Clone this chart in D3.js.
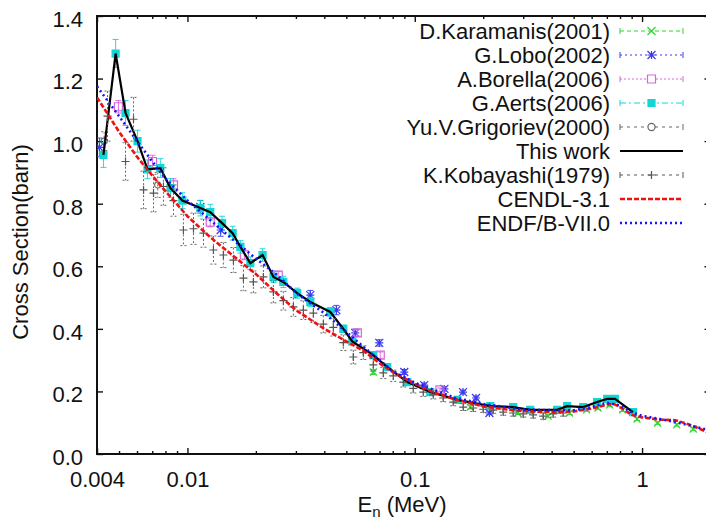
<!DOCTYPE html>
<html>
<head>
<meta charset="utf-8">
<script src="https://cdn.jsdelivr.net/npm/d3@7"></script>
<style>
  html, body { margin: 0; padding: 0; background: #fff; }
  svg { display: block; }
  text { font-family: "Liberation Sans", Arial, Helvetica, sans-serif; fill: #111; }
</style>
</head>
<body>
<svg id="chart" width="706" height="527"></svg>
<script>
// ---------------- DATA (E in MeV, sigma in barn, err in barn) ----------------
const xTickLabels = ["0.004", "0.01", "0.1", "1"];
const xMajorTicks = [0.004, 0.01, 0.1, 1];
const xMinorTicks = [0.005,0.006,0.007,0.008,0.009,0.02,0.03,0.04,0.05,0.06,0.07,0.08,0.09,0.2,0.3,0.4,0.5,0.6,0.7,0.8,0.9,2];
const yTicks = [0, 0.2, 0.4, 0.6, 0.8, 1.0, 1.2, 1.4];

const seriesNames = ["D.Karamanis(2001)", "G.Lobo(2002)", "A.Borella(2006)", "G.Aerts(2006)",
  "Yu.V.Grigoriev(2000)", "This work", "K.Kobayashi(1979)", "CENDL-3.1", "ENDF/B-VII.0"];

const karamanis = [[0.0657,0.262,0.008],[0.1755,0.150,0.006],[0.284,0.131,0.005],[0.386,0.121,0.005],
  [0.48,0.131,0.005],[0.57,0.141,0.005],[0.64,0.147,0.005],[0.72,0.157,0.005],[0.82,0.141,0.005],
  [0.95,0.112,0.005],[1.17,0.099,0.004],[1.42,0.093,0.004],[1.68,0.080,0.004]];

const lobo = [[0.0041,0.98,0.03],[0.0114,0.79,0.02],[0.0140,0.716,0.02],[0.0347,0.508,0.015],
  [0.0452,0.46,0.015],[0.0547,0.387,0.012],[0.0698,0.355,0.01],[0.0899,0.262,0.008],
  [0.110,0.22,0.007],[0.135,0.208,0.007],[0.163,0.198,0.006],[0.186,0.179,0.006],[0.213,0.131,0.005]];

const borella = [[0.00497,1.11,0.02],[0.00702,0.935,0.02],[0.00868,0.86,0.02],[0.0126,0.741,0.015],
  [0.0178,0.636,0.015],[0.0251,0.572,0.012],[0.0559,0.387,0.01],[0.0705,0.316,0.01],[0.129,0.205,0.006]];

const aerts = [[0.00427,0.956,0.04],[0.00483,1.28,0.045],[0.00534,1.09,0.04],[0.00603,1.00,0.035],
  [0.00667,0.91,0.03],[0.0076,0.914,0.03],[0.00842,0.85,0.03],[0.0095,0.81,0.025],[0.0114,0.786,0.025],
  [0.0126,0.773,0.025],[0.0142,0.738,0.022],[0.0158,0.706,0.022],[0.0171,0.662,0.02],[0.0189,0.61,0.02],
  [0.0214,0.636,0.02],[0.0239,0.566,0.018],[0.0264,0.55,0.018],[0.0304,0.514,0.016],[0.0347,0.486,0.015],
  [0.0425,0.454,0.014],[0.0485,0.40,0.012],[0.0531,0.36,0.011],[0.0657,0.316,0.01],[0.0757,0.278,0.009],
  [0.0927,0.23,0.008],[0.117,0.198,0.007],[0.154,0.173,0.006],[0.215,0.153,0.005],[0.271,0.15,0.005],
  [0.322,0.141,0.005],[0.423,0.141,0.005],[0.468,0.153,0.005],[0.551,0.15,0.005],[0.634,0.166,0.005],
  [0.702,0.176,0.005],[0.76,0.176,0.005],[0.912,0.134,0.005]];

const grigoriev = [[0.0043,1.0,0.03],[0.0074,0.86,0.04]];

const thisWork = [[0.00427,0.956],[0.00483,1.28],[0.00534,1.09],[0.00603,1.00],[0.00667,0.91],
  [0.0076,0.914],[0.00842,0.85],[0.0095,0.81],[0.0114,0.786],[0.0126,0.773],[0.0142,0.738],
  [0.0158,0.706],[0.0171,0.662],[0.0189,0.61],[0.0214,0.636],[0.0239,0.566],[0.0264,0.55],
  [0.0304,0.514],[0.0347,0.486],[0.0425,0.454],[0.0485,0.40],[0.0531,0.36],[0.0657,0.316],
  [0.0757,0.278],[0.0927,0.23],[0.117,0.198],[0.154,0.173],[0.215,0.153],[0.271,0.15],
  [0.322,0.141],[0.423,0.141],[0.468,0.153],[0.551,0.15],[0.634,0.166],[0.702,0.176],
  [0.76,0.176],[0.912,0.134]];

const kobayashi = [[0.00445,1.08,0.08],[0.00534,0.935,0.06],[0.00579,1.07,0.07],[0.00641,0.844,0.06],
  [0.00709,0.834,0.06],[0.00784,0.855,0.06],[0.00868,0.81,0.05],[0.0096,0.716,0.05],[0.01063,0.72,0.05],
  [0.01176,0.706,0.045],[0.01301,0.652,0.045],[0.01439,0.636,0.04],[0.01593,0.62,0.04],[0.01763,0.562,0.04],
  [0.0195,0.55,0.035],[0.02158,0.566,0.035],[0.02388,0.518,0.035],[0.02642,0.49,0.03],[0.02924,0.47,0.03],
  [0.03235,0.46,0.03],[0.0358,0.45,0.03],[0.03961,0.415,0.028],[0.04383,0.405,0.028],[0.0485,0.356,0.025],
  [0.05366,0.31,0.022],[0.05938,0.324,0.022],[0.0657,0.285,0.02],[0.0727,0.259,0.018],[0.08044,0.25,0.018],
  [0.08901,0.23,0.016],[0.0985,0.21,0.015],[0.109,0.198,0.014],[0.1206,0.189,0.013],[0.1334,0.179,0.012],
  [0.1476,0.166,0.012],[0.1634,0.15,0.011],[0.1808,0.147,0.011],[0.2,0.143,0.01],[0.2213,0.14,0.01],
  [0.2449,0.134,0.01],[0.271,0.131,0.01],[0.2999,0.128,0.01],[0.3318,0.125,0.01],[0.3672,0.121,0.01],
  [0.4063,0.128,0.01],[0.4496,0.131,0.01]];

const cendl = [[0.004,1.14],[0.005,1.03],[0.006,0.95],[0.007,0.89],[0.008,0.84],[0.01,0.76],
  [0.0125,0.695],[0.015,0.648],[0.02,0.575],[0.025,0.51],[0.03,0.46],[0.04,0.40],[0.05,0.36],
  [0.06,0.328],[0.07,0.29],[0.08,0.262],[0.1,0.225],[0.12,0.198],[0.15,0.175],[0.2,0.152],
  [0.25,0.143],[0.3,0.137],[0.4,0.134],[0.5,0.136],[0.6,0.145],[0.7,0.158],[0.75,0.16],
  [0.8,0.15],[0.9,0.125],[1.0,0.117],[1.2,0.11],[1.4,0.108],[1.6,0.095],[1.8,0.08],[2.0,0.065]];

const endf = [[0.004,1.175],[0.005,1.08],[0.006,1.00],[0.007,0.935],[0.008,0.88],[0.01,0.81],
  [0.0125,0.75],[0.015,0.70],[0.0175,0.66],[0.02,0.625],[0.025,0.57],[0.03,0.515],[0.04,0.45],
  [0.05,0.39],[0.06,0.34],[0.07,0.30],[0.08,0.265],[0.1,0.228],[0.15,0.18],[0.2,0.16],[0.3,0.142],
  [0.4,0.14],[0.5,0.14],[0.6,0.15],[0.7,0.164],[0.8,0.155],[0.9,0.134],[1.0,0.122],[1.2,0.112],
  [1.4,0.102],[1.7,0.088],[2.0,0.075]];

// ---------------- LAYOUT ----------------
const pL = 97, pR = 710.5, pT = 16, pB = 454;
const svg = d3.select("#chart");

const x = d3.scaleLog().domain([0.004, 2]).range([pL, pR]);
const y = d3.scaleLinear().domain([0, 1.4]).range([pB, pT]);

const FS = 22;
const majorLen = 6, minorLen = 3;

const gxB = svg.append("g").attr("transform", `translate(0,${pB})`)
  .call(d3.axisBottom(x).tickValues(xMajorTicks).tickFormat((d, i) => xTickLabels[i])
    .tickSizeInner(-majorLen).tickSizeOuter(0).tickPadding(17));
const gxBm = svg.append("g").attr("transform", `translate(0,${pB})`)
  .call(d3.axisBottom(x).tickValues(xMinorTicks).tickFormat("").tickSizeInner(-minorLen).tickSizeOuter(0));
const gxT = svg.append("g").attr("transform", `translate(0,${pT})`)
  .call(d3.axisTop(x).tickValues(xMajorTicks).tickFormat("").tickSizeInner(-majorLen).tickSizeOuter(0));
const gxTm = svg.append("g").attr("transform", `translate(0,${pT})`)
  .call(d3.axisTop(x).tickValues(xMinorTicks).tickFormat("").tickSizeInner(-minorLen).tickSizeOuter(0));
const gyL = svg.append("g").attr("transform", `translate(${pL},0)`)
  .call(d3.axisLeft(y).tickValues(yTicks).tickFormat(d3.format(".1f"))
    .tickSizeInner(-majorLen).tickSizeOuter(0).tickPadding(14));
const gyR = svg.append("g").attr("transform", `translate(${pR},0)`)
  .call(d3.axisRight(y).tickValues(yTicks).tickFormat("").tickSizeInner(-majorLen).tickSizeOuter(0));

[gxB, gxBm, gxT, gxTm, gyL, gyR].forEach(g => {
  g.select(".domain").remove();
  g.selectAll(".tick line").attr("stroke", "#111").attr("stroke-width", 1.4);
  g.selectAll("text").attr("font-size", FS).attr("font-family", "Liberation Sans, Arial, sans-serif").attr("fill", "#111");
});
gyL.selectAll("text").attr("dy", "0.47em");

svg.append("path")
  .attr("d", `M${pR},${pT}H${pL}V${pB}H${pR}`)
  .attr("fill", "none").attr("stroke", "#111").attr("stroke-width", 2);

svg.append("text").attr("transform", `translate(28,242) rotate(-90)`)
  .attr("text-anchor", "middle").attr("font-size", FS).text("Cross Section(barn)");
const xt = svg.append("text").attr("x", 402).attr("y", 512).attr("text-anchor", "middle").attr("font-size", FS);
xt.append("tspan").text("E");
xt.append("tspan").attr("font-size", 15).attr("dy", 5).text("n");
xt.append("tspan").attr("dy", -5).text(" (MeV)");

// ---------------- STYLES ----------------
const styles = [
  {color: "#2ed42e", dash: "4,3", marker: "x"},
  {color: "#3a3aee", dash: "2,3", marker: "star"},
  {color: "#d766d7", dash: "2,2", marker: "box"},
  {color: "#12d6d6", dash: "6,3,2,3", marker: "fbox"},
  {color: "#666666", dash: "3,4", marker: "circle"},
  {color: "#000000", dash: null, marker: null},
  {color: "#555555", dash: "3,4", marker: "plus"},
  {color: "#ee1111", dash: "5,2", marker: null},
  {color: "#1515ff", dash: "2,3", marker: null}
];

function markerPath(type, s) {
  const h = s / 2;
  switch (type) {
    case "x": return `M${-h},${-h}L${h},${h}M${-h},${h}L${h},${-h}`;
    case "plus": return `M${-h},0H${h}M0,${-h}V${h}`;
    case "star": return `M${-h},${-h}L${h},${h}M${-h},${h}L${h},${-h}M${-h},0H${h}M0,${-h}V${h}`;
    case "box": case "fbox": return `M${-h},${-h}H${h}V${h}H${-h}Z`;
    case "circle": return d3.symbol(d3.symbolCircle, s * s * 0.62)();
  }
  return "";
}

svg.append("clipPath").attr("id", "clipPlot").append("rect")
  .attr("x", pL).attr("y", pT).attr("width", pR - pL).attr("height", pB - pT);
const plot = svg.append("g").attr("clip-path", "url(#clipPlot)");

function drawPoints(data, st, size) {
  const g = plot.append("g");
  g.selectAll("path.eb").data(data).enter().append("path")
    .attr("d", d => {
      const cx = x(d[0]), y1 = y(d[1] + d[2]), y2 = y(d[1] - d[2]);
      return `M${cx},${y1}V${y2}M${cx - 3},${y1}H${cx + 3}M${cx - 3},${y2}H${cx + 3}`;
    })
    .attr("fill", "none").attr("stroke", st.color).attr("stroke-width", 1)
    .attr("stroke-dasharray", st.dash === "3,4" ? "2,2" : null).attr("opacity", 0.9);
  g.selectAll("path.mk").data(data).enter().append("path")
    .attr("transform", d => `translate(${x(d[0])},${y(d[1])})`)
    .attr("d", markerPath(st.marker, size))
    .attr("fill", st.marker === "fbox" ? st.color : "none")
    .attr("stroke", st.color).attr("stroke-width", 1.2);
}

function drawLine(data, st, width) {
  plot.append("path").datum(data)
    .attr("d", d3.line().x(d => x(d[0])).y(d => y(d[1])))
    .attr("fill", "none").attr("stroke", st.color).attr("stroke-width", width)
    .attr("stroke-dasharray", st.dash);
}

drawPoints(karamanis, styles[0], 7);
drawPoints(lobo, styles[1], 8);
drawPoints(borella, styles[2], 8);
drawPoints(aerts, styles[3], 7);
drawPoints(grigoriev, styles[4], 7);
drawLine(thisWork, styles[5], 2.2);
drawPoints(kobayashi, styles[6], 8);
drawLine(cendl, styles[7], 2.6);
drawLine(endf, styles[8], 2.6);

// ---------------- LEGEND ----------------
const legX = 610, s1 = 620, s2 = 683, legY0 = 31, legDy = 24;
const leg = svg.append("g");
seriesNames.forEach((name, i) => {
  const st = styles[i];
  const cy = legY0 + i * legDy;
  leg.append("text").attr("x", legX).attr("y", cy).attr("dy", "0.36em")
    .attr("text-anchor", "end").attr("font-size", FS).text(name);
  const isLine = (i === 5 || i === 7 || i === 8);
  leg.append("path").attr("d", `M${s1},${cy}H${s2}`)
    .attr("stroke", st.color).attr("stroke-width", isLine ? (i === 5 ? 2.2 : 2.6) : 1)
    .attr("stroke-dasharray", st.dash).attr("fill", "none");
  if (!isLine) {
    leg.append("path").attr("d", `M${s1},${cy - 3}V${cy + 3}M${s2},${cy - 3}V${cy + 3}`)
      .attr("stroke", st.color).attr("stroke-width", 1).attr("fill", "none");
    leg.append("path").attr("transform", `translate(${(s1 + s2) / 2},${cy})`)
      .attr("d", markerPath(st.marker, st.marker === "fbox" ? 7 : 8))
      .attr("fill", st.marker === "fbox" ? st.color : "white")
      .attr("stroke", st.color).attr("stroke-width", 1.2);
  }
});
</script>
</body>
</html>
